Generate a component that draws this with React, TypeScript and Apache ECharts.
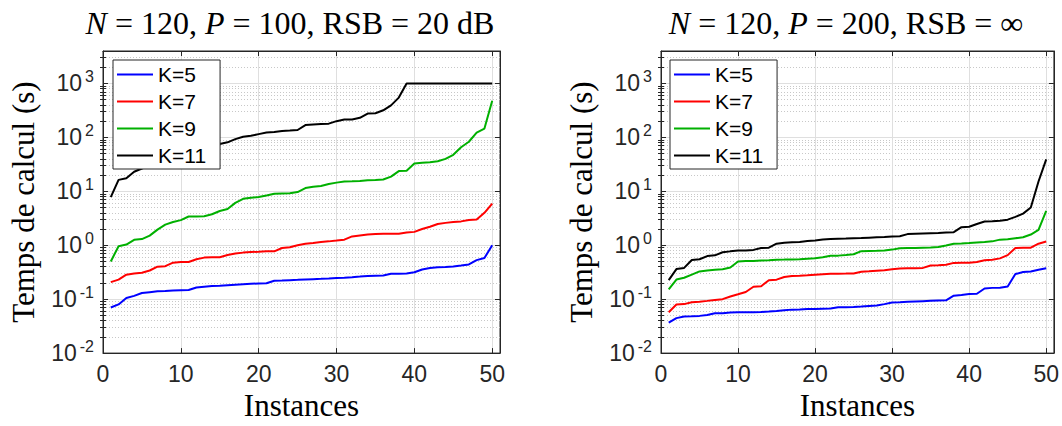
import React, { useEffect, useRef } from 'react';
import * as echarts from 'echarts';

// ---------- data ----------
const instances = Array.from({ length: 50 }, (_, i) => i + 1);
const seriesNames = ['K=5', 'K=7', 'K=9', 'K=11'];
const seriesColors = ['#0000ff', '#ff0000', '#00b000', '#000000'];
const xTicks = [0, 10, 20, 30, 40, 50];

// Left panel: N = 120, P = 100, RSB = 20 dB
const leftK5 = [0.070, 0.080, 0.105, 0.115, 0.13, 0.135, 0.14, 0.142, 0.145, 0.147,
  0.148, 0.165, 0.17, 0.175, 0.178, 0.182, 0.186, 0.19, 0.193, 0.195,
  0.197, 0.22, 0.222, 0.225, 0.228, 0.232, 0.235, 0.238, 0.242, 0.247,
  0.25, 0.255, 0.262, 0.27, 0.273, 0.276, 0.295, 0.297, 0.3, 0.315,
  0.355, 0.38, 0.39, 0.395, 0.405, 0.42, 0.44, 0.53, 0.58, 1.0];
const leftK7 = [0.207, 0.23, 0.285, 0.30, 0.31, 0.34, 0.40, 0.41, 0.476, 0.49,
  0.49, 0.55, 0.59, 0.60, 0.60, 0.66, 0.70, 0.73, 0.75, 0.757,
  0.77, 0.77, 0.89, 0.92, 1.0, 1.07, 1.1, 1.15, 1.18, 1.22,
  1.27, 1.46, 1.52, 1.58, 1.62, 1.63, 1.63, 1.64, 1.72, 1.77,
  2.0, 2.2, 2.48, 2.6, 2.7, 2.77, 2.95, 3.0, 4.0, 5.9];
const leftK9 = [0.50, 0.96, 1.03, 1.26, 1.3, 1.51, 1.95, 2.41, 2.7, 2.92,
  3.41, 3.43, 3.46, 3.76, 4.32, 4.7, 6.1, 7.25, 7.6, 7.87,
  8.4, 9.0, 9.1, 9.2, 9.7, 11.5, 12.2, 12.6, 13.7, 14.5,
  15.2, 15.3, 15.6, 16.1, 16.3, 16.6, 18.7, 23.7, 24, 32.7,
  34, 34.5, 36, 40, 47.6, 65.8, 83, 123, 146, 476];
const leftK11 = [7.8, 16.3, 17.5, 23.1, 26.5, 30, 34, 37, 42, 47,
  52, 58, 63, 69, 75.5, 81, 93, 103, 107, 115,
  123, 126, 132, 134, 137, 169, 173, 177, 180, 200,
  215, 215, 231, 277, 281, 318, 392, 547, 1000, 1000,
  1000, 1000, 1000, 1000, 1000, 1000, 1000, 1000, 1000, 1000];

// Right panel: N = 120, P = 200, RSB = inf
const rightK5 = [0.0366, 0.0445, 0.0476, 0.048, 0.049, 0.051, 0.0548, 0.055, 0.0565, 0.057,
  0.0571, 0.0573, 0.058, 0.059, 0.0605, 0.0625, 0.064, 0.0645, 0.0658, 0.066,
  0.0665, 0.067, 0.0705, 0.071, 0.0715, 0.073, 0.075, 0.076, 0.081, 0.087,
  0.088, 0.09, 0.091, 0.092, 0.093, 0.094, 0.095, 0.116, 0.12, 0.125,
  0.126, 0.158, 0.162, 0.163, 0.172, 0.292, 0.318, 0.325, 0.35, 0.376];
const rightK7 = [0.0571, 0.0794, 0.081, 0.088, 0.090, 0.093, 0.097, 0.10, 0.112, 0.123,
  0.136, 0.17, 0.174, 0.225, 0.23, 0.258, 0.27, 0.273, 0.278, 0.285,
  0.29, 0.295, 0.297, 0.298, 0.30, 0.323, 0.33, 0.338, 0.345, 0.36,
  0.37, 0.374, 0.375, 0.38, 0.42, 0.425, 0.435, 0.471, 0.473, 0.475,
  0.49, 0.526, 0.54, 0.571, 0.656, 0.89, 0.90, 0.90, 1.07, 1.17];
const rightK9 = [0.152, 0.231, 0.25, 0.285, 0.327, 0.34, 0.35, 0.36, 0.387, 0.498,
  0.51, 0.512, 0.52, 0.525, 0.54, 0.542, 0.545, 0.55, 0.564, 0.575,
  0.597, 0.64, 0.642, 0.66, 0.68, 0.778, 0.785, 0.79, 0.80, 0.83,
  0.88, 0.885, 0.89, 0.90, 0.91, 0.925, 0.986, 1.07, 1.075, 1.1,
  1.13, 1.15, 1.18, 1.27, 1.29, 1.35, 1.41, 1.58, 1.92, 4.33];
const rightK11 = [0.225, 0.361, 0.38, 0.533, 0.55, 0.63, 0.65, 0.74, 0.77, 0.80,
  0.80, 0.82, 0.89, 0.90, 1.07, 1.11, 1.14, 1.15, 1.2, 1.23,
  1.28, 1.3, 1.32, 1.33, 1.35, 1.36, 1.38, 1.4, 1.42, 1.45,
  1.47, 1.61, 1.63, 1.65, 1.67, 1.69, 1.72, 1.75, 2.16, 2.2,
  2.48, 2.75, 2.78, 2.85, 2.98, 3.36, 3.86, 5.0, 15.2, 39.2];

const panels = [
  { title: ['N', ' = 120, ', 'P', ' = 100, RSB = 20 dB'], series: [leftK5, leftK7, leftK9, leftK11] },
  { title: ['N', ' = 120, ', 'P', ' = 200, RSB = \u221E'], series: [rightK5, rightK7, rightK9, rightK11] },
];

// ---------- layout / style ----------
const SANS = '"Liberation Sans", Arial, Helvetica, sans-serif';
const SERIF = '"Liberation Serif", "Times New Roman", serif';
const AX = '#262626';
const Y_MIN = 0.01;
const Y_MAX = 4000;
const X_MIN = 0;
const X_MAX = 51;
const TITLE_SIZE = 32;
const NAME_SIZE = 31;
const grids = [
  { left: 103, top: 51, width: 397, height: 308, titleX: 290, legendLeft: 113 },
  { left: 661, top: 51, width: 397, height: 308, titleX: 846, legendLeft: 670 },
];

const minorLogValues: number[] = [];
for (let k = -2; k <= 3; k++) {
  for (let m = 2; m <= 9; m++) {
    const v = Math.log10(m) + k;
    if (v < Math.log10(Y_MAX)) minorLogValues.push(v);
  }
}

const logLabel = (v: number) => {
  const l = Math.log10(v);
  const e = Math.round(l);
  if (Math.abs(l - e) > 1e-6) return '';
  return `{b|10}{s|${e}}`;
};

function buildOption() {
  const xAxis: any[] = [];
  const yAxis: any[] = [];
  const series: any[] = [];
  const graphic: any[] = [];

  grids.forEach((g, gi) => {
    xAxis.push({
      type: 'value', gridIndex: gi, min: X_MIN, max: X_MAX, interval: 10, position: 'bottom',
      name: 'Instances', nameLocation: 'middle', nameGap: 32,
      nameTextStyle: { fontFamily: SERIF, fontSize: NAME_SIZE, color: '#000' },
      axisLine: { show: true, onZero: false, lineStyle: { color: AX, width: 1 } },
      axisTick: { show: true, inside: true, length: 5, lineStyle: { color: AX } },
      axisLabel: {
        show: true, margin: 9, fontFamily: SANS, fontSize: 23, color: AX,
        showMaxLabel: false,
        formatter: (v: number) => (xTicks.includes(v) ? String(v) : ''),
      },
      splitLine: { show: true, lineStyle: { color: '#dfdfdf', width: 1 } },
    });
    xAxis.push({
      type: 'value', gridIndex: gi, min: X_MIN, max: X_MAX, interval: 10, position: 'top',
      axisLine: { show: true, onZero: false, lineStyle: { color: AX, width: 1 } },
      axisTick: { show: true, inside: true, length: 5, lineStyle: { color: AX } },
      axisLabel: { show: false },
      splitLine: { show: false },
    });
    yAxis.push({
      type: 'log', logBase: 10, gridIndex: gi, min: Y_MIN, max: Y_MAX, position: 'left',
      name: 'Temps de calcul (s)', nameLocation: 'middle', nameGap: 64, nameRotate: 90,
      nameTextStyle: { fontFamily: SERIF, fontSize: NAME_SIZE, color: '#000' },
      axisLine: { show: true, onZero: false, lineStyle: { color: AX, width: 1 } },
      axisTick: { show: true, inside: true, length: 5, lineStyle: { color: AX } },
      axisLabel: {
        show: true, margin: 9, formatter: logLabel, showMaxLabel: false,
        rich: {
          b: { fontFamily: SANS, fontSize: 23, color: AX, lineHeight: 30 },
          s: { fontFamily: SANS, fontSize: 16, color: AX, verticalAlign: 'top', padding: [0, 0, 0, 3] },
        },
      },
      splitLine: { show: true, lineStyle: { color: '#dfdfdf', width: 1 } },
    });
    yAxis.push({
      type: 'log', logBase: 10, gridIndex: gi, min: Y_MIN, max: Y_MAX, position: 'right',
      axisLine: { show: true, onZero: false, lineStyle: { color: AX, width: 1 } },
      axisTick: { show: true, inside: true, length: 5, lineStyle: { color: AX } },
      axisLabel: { show: false },
      splitLine: { show: false },
    });
    yAxis.push({
      type: 'value', gridIndex: gi, min: -2, max: Math.log10(Y_MAX), position: 'left',
      axisLine: { show: false },
      axisTick: { show: true, inside: true, length: 3, customValues: minorLogValues, lineStyle: { color: AX } },
      axisLabel: { show: false },
      splitLine: { show: true, lineStyle: { color: '#c8c8c8', width: 1, type: [1, 2] } },
      z: 0,
    });
    yAxis.push({
      type: 'value', gridIndex: gi, min: -2, max: Math.log10(Y_MAX), position: 'right',
      axisLine: { show: false },
      axisTick: { show: true, inside: true, length: 3, customValues: minorLogValues, lineStyle: { color: AX } },
      axisLabel: { show: false },
      splitLine: { show: false },
    });

    panels[gi].series.forEach((vals, si) => {
      series.push({
        type: 'line',
        name: seriesNames[si],
        xAxisIndex: gi * 2,
        yAxisIndex: gi * 4,
        data: vals.map((v, i) => [instances[i], v]),
        showSymbol: false,
        symbol: 'none',
        lineStyle: { color: seriesColors[si], width: 2 },
        itemStyle: { color: seriesColors[si] },
        z: 3,
      });
    });

    const t = panels[gi].title;
    graphic.push({
      type: 'text',
      x: g.titleX,
      y: 23,
      style: {
        text: `{i|${t[0]}}{r|${t[1]}}{i|${t[2]}}{r|${t[3]}}`,
        fontFamily: SERIF,
        fontSize: TITLE_SIZE,
        fill: '#000',
        align: 'center',
        verticalAlign: 'middle',
        rich: {
          i: { fontFamily: SERIF, fontSize: TITLE_SIZE, fontStyle: 'italic', fill: '#000' },
          r: { fontFamily: SERIF, fontSize: TITLE_SIZE, fill: '#000' },
        },
      },
    });
  });

  return {
    animation: false,
    backgroundColor: '#ffffff',
    grid: grids.map((g) => ({
      left: g.left, top: g.top, width: g.width, height: g.height,
      show: true, borderColor: AX, borderWidth: 1, backgroundColor: 'transparent',
    })),
    xAxis,
    yAxis,
    legend: grids.map((g) => ({
      data: seriesNames,
      orient: 'vertical',
      left: g.legendLeft,
      top: 60,
      icon: 'rect',
      itemWidth: 36,
      itemHeight: 2,
      itemGap: 6,
      padding: [4, 14, 3, 4],
      borderColor: AX,
      borderWidth: 1,
      backgroundColor: '#ffffff',
      textStyle: { fontFamily: SANS, fontSize: 21, color: '#000', lineHeight: 21 },
      selectedMode: false,
      z: 10,
    })),
    series,
    graphic,
  };
}

export default function App() {
  const ref = useRef<HTMLDivElement>(null);
  useEffect(() => {
    document.body.style.margin = '0';
    if (!ref.current) return;
    const chart = echarts.init(ref.current, undefined, { renderer: 'svg' });
    chart.setOption(buildOption() as any);
    return () => chart.dispose();
  }, []);
  return <div ref={ref} style={{ width: 1062, height: 426, background: '#fff' }} />;
}
